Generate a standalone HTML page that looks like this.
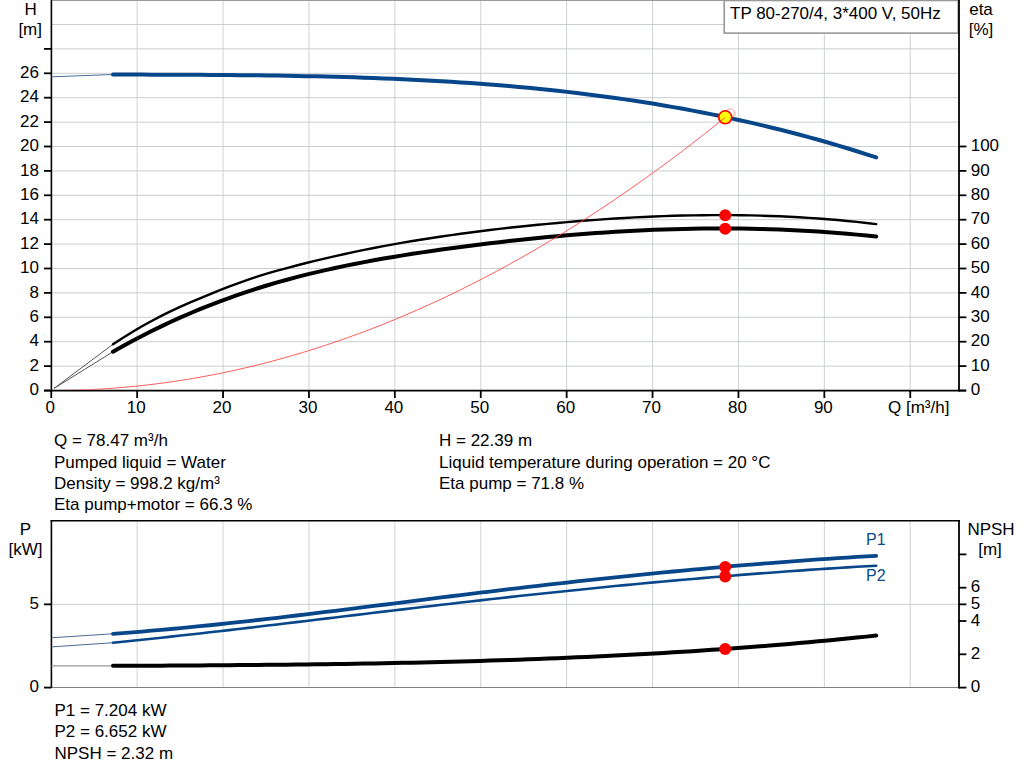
<!DOCTYPE html>
<html><head><meta charset="utf-8"><style>
html,body{margin:0;padding:0;background:#fff;}
body{width:1024px;height:781px;overflow:hidden;}
svg{display:block;}
text{font-family:"Liberation Sans",sans-serif;fill:#000;}
</style></head><body>
<svg width="1024" height="781" viewBox="0 0 1024 781">
<line x1="137.15" y1="0" x2="137.15" y2="390" stroke="#cfd2d5" stroke-width="1"/>
<line x1="223.05" y1="0" x2="223.05" y2="390" stroke="#cfd2d5" stroke-width="1"/>
<line x1="308.95" y1="0" x2="308.95" y2="390" stroke="#cfd2d5" stroke-width="1"/>
<line x1="394.85" y1="0" x2="394.85" y2="390" stroke="#cfd2d5" stroke-width="1"/>
<line x1="480.75" y1="0" x2="480.75" y2="390" stroke="#cfd2d5" stroke-width="1"/>
<line x1="566.65" y1="0" x2="566.65" y2="390" stroke="#cfd2d5" stroke-width="1"/>
<line x1="652.55" y1="0" x2="652.55" y2="390" stroke="#cfd2d5" stroke-width="1"/>
<line x1="738.45" y1="0" x2="738.45" y2="390" stroke="#cfd2d5" stroke-width="1"/>
<line x1="824.35" y1="0" x2="824.35" y2="390" stroke="#cfd2d5" stroke-width="1"/>
<line x1="910.25" y1="0" x2="910.25" y2="390" stroke="#cfd2d5" stroke-width="1"/>
<line x1="51" y1="366.10" x2="958" y2="366.10" stroke="#cacdd0" stroke-width="1"/>
<line x1="51" y1="341.70" x2="958" y2="341.70" stroke="#cacdd0" stroke-width="1"/>
<line x1="51" y1="317.30" x2="958" y2="317.30" stroke="#cacdd0" stroke-width="1"/>
<line x1="51" y1="292.90" x2="958" y2="292.90" stroke="#cacdd0" stroke-width="1"/>
<line x1="51" y1="268.50" x2="958" y2="268.50" stroke="#cacdd0" stroke-width="1"/>
<line x1="51" y1="244.10" x2="958" y2="244.10" stroke="#cacdd0" stroke-width="1"/>
<line x1="51" y1="219.70" x2="958" y2="219.70" stroke="#cacdd0" stroke-width="1"/>
<line x1="51" y1="195.30" x2="958" y2="195.30" stroke="#cacdd0" stroke-width="1"/>
<line x1="51" y1="170.90" x2="958" y2="170.90" stroke="#cacdd0" stroke-width="1"/>
<line x1="51" y1="146.50" x2="958" y2="146.50" stroke="#cacdd0" stroke-width="1"/>
<line x1="51" y1="122.10" x2="958" y2="122.10" stroke="#cacdd0" stroke-width="1"/>
<line x1="51" y1="97.70" x2="958" y2="97.70" stroke="#cacdd0" stroke-width="1"/>
<line x1="51" y1="73.30" x2="958" y2="73.30" stroke="#cacdd0" stroke-width="1"/>
<line x1="51" y1="48.90" x2="958" y2="48.90" stroke="#cacdd0" stroke-width="1"/>
<line x1="51" y1="24.50" x2="958" y2="24.50" stroke="#cacdd0" stroke-width="1"/>
<line x1="51" y1="0.5" x2="958" y2="0.5" stroke="#9a9a9a" stroke-width="1"/>
<rect x="724.2" y="0.5" width="234" height="32.6" fill="#fff" stroke="#999" stroke-width="1.6"/>
<text x="730" y="19" font-family="Liberation Sans, sans-serif" font-size="17">TP 80-270/4, 3*400 V, 50Hz</text>
<line x1="51.4" y1="0" x2="51.4" y2="391.4" stroke="#000" stroke-width="1.6"/>
<line x1="959" y1="0" x2="959" y2="391.4" stroke="#000" stroke-width="1.8"/>
<line x1="44" y1="390.6" x2="966" y2="390.6" stroke="#000" stroke-width="1.8"/>
<line x1="44" y1="390.50" x2="51.4" y2="390.50" stroke="#000" stroke-width="1.8"/>
<text x="39" y="395.10" text-anchor="end" font-family="Liberation Sans, sans-serif" font-size="17">0</text>
<line x1="44" y1="366.10" x2="51.4" y2="366.10" stroke="#000" stroke-width="1.8"/>
<text x="39" y="370.70" text-anchor="end" font-family="Liberation Sans, sans-serif" font-size="17">2</text>
<line x1="44" y1="341.70" x2="51.4" y2="341.70" stroke="#000" stroke-width="1.8"/>
<text x="39" y="346.30" text-anchor="end" font-family="Liberation Sans, sans-serif" font-size="17">4</text>
<line x1="44" y1="317.30" x2="51.4" y2="317.30" stroke="#000" stroke-width="1.8"/>
<text x="39" y="321.90" text-anchor="end" font-family="Liberation Sans, sans-serif" font-size="17">6</text>
<line x1="44" y1="292.90" x2="51.4" y2="292.90" stroke="#000" stroke-width="1.8"/>
<text x="39" y="297.50" text-anchor="end" font-family="Liberation Sans, sans-serif" font-size="17">8</text>
<line x1="44" y1="268.50" x2="51.4" y2="268.50" stroke="#000" stroke-width="1.8"/>
<text x="39" y="273.10" text-anchor="end" font-family="Liberation Sans, sans-serif" font-size="17">10</text>
<line x1="44" y1="244.10" x2="51.4" y2="244.10" stroke="#000" stroke-width="1.8"/>
<text x="39" y="248.70" text-anchor="end" font-family="Liberation Sans, sans-serif" font-size="17">12</text>
<line x1="44" y1="219.70" x2="51.4" y2="219.70" stroke="#000" stroke-width="1.8"/>
<text x="39" y="224.30" text-anchor="end" font-family="Liberation Sans, sans-serif" font-size="17">14</text>
<line x1="44" y1="195.30" x2="51.4" y2="195.30" stroke="#000" stroke-width="1.8"/>
<text x="39" y="199.90" text-anchor="end" font-family="Liberation Sans, sans-serif" font-size="17">16</text>
<line x1="44" y1="170.90" x2="51.4" y2="170.90" stroke="#000" stroke-width="1.8"/>
<text x="39" y="175.50" text-anchor="end" font-family="Liberation Sans, sans-serif" font-size="17">18</text>
<line x1="44" y1="146.50" x2="51.4" y2="146.50" stroke="#000" stroke-width="1.8"/>
<text x="39" y="151.10" text-anchor="end" font-family="Liberation Sans, sans-serif" font-size="17">20</text>
<line x1="44" y1="122.10" x2="51.4" y2="122.10" stroke="#000" stroke-width="1.8"/>
<text x="39" y="126.70" text-anchor="end" font-family="Liberation Sans, sans-serif" font-size="17">22</text>
<line x1="44" y1="97.70" x2="51.4" y2="97.70" stroke="#000" stroke-width="1.8"/>
<text x="39" y="102.30" text-anchor="end" font-family="Liberation Sans, sans-serif" font-size="17">24</text>
<line x1="44" y1="73.30" x2="51.4" y2="73.30" stroke="#000" stroke-width="1.8"/>
<text x="39" y="77.90" text-anchor="end" font-family="Liberation Sans, sans-serif" font-size="17">26</text>
<line x1="44" y1="48.90" x2="51.4" y2="48.90" stroke="#000" stroke-width="1.8"/>
<line x1="959" y1="390.50" x2="966.4" y2="390.50" stroke="#000" stroke-width="1.8"/>
<text x="970.7" y="395.10" font-family="Liberation Sans, sans-serif" font-size="17">0</text>
<line x1="959" y1="366.10" x2="966.4" y2="366.10" stroke="#000" stroke-width="1.8"/>
<text x="970.7" y="370.70" font-family="Liberation Sans, sans-serif" font-size="17">10</text>
<line x1="959" y1="341.70" x2="966.4" y2="341.70" stroke="#000" stroke-width="1.8"/>
<text x="970.7" y="346.30" font-family="Liberation Sans, sans-serif" font-size="17">20</text>
<line x1="959" y1="317.30" x2="966.4" y2="317.30" stroke="#000" stroke-width="1.8"/>
<text x="970.7" y="321.90" font-family="Liberation Sans, sans-serif" font-size="17">30</text>
<line x1="959" y1="292.90" x2="966.4" y2="292.90" stroke="#000" stroke-width="1.8"/>
<text x="970.7" y="297.50" font-family="Liberation Sans, sans-serif" font-size="17">40</text>
<line x1="959" y1="268.50" x2="966.4" y2="268.50" stroke="#000" stroke-width="1.8"/>
<text x="970.7" y="273.10" font-family="Liberation Sans, sans-serif" font-size="17">50</text>
<line x1="959" y1="244.10" x2="966.4" y2="244.10" stroke="#000" stroke-width="1.8"/>
<text x="970.7" y="248.70" font-family="Liberation Sans, sans-serif" font-size="17">60</text>
<line x1="959" y1="219.70" x2="966.4" y2="219.70" stroke="#000" stroke-width="1.8"/>
<text x="970.7" y="224.30" font-family="Liberation Sans, sans-serif" font-size="17">70</text>
<line x1="959" y1="195.30" x2="966.4" y2="195.30" stroke="#000" stroke-width="1.8"/>
<text x="970.7" y="199.90" font-family="Liberation Sans, sans-serif" font-size="17">80</text>
<line x1="959" y1="170.90" x2="966.4" y2="170.90" stroke="#000" stroke-width="1.8"/>
<text x="970.7" y="175.50" font-family="Liberation Sans, sans-serif" font-size="17">90</text>
<line x1="959" y1="146.50" x2="966.4" y2="146.50" stroke="#000" stroke-width="1.8"/>
<text x="970.7" y="151.10" font-family="Liberation Sans, sans-serif" font-size="17">100</text>
<line x1="51.25" y1="390.6" x2="51.25" y2="398" stroke="#000" stroke-width="1.8"/>
<text x="50.25" y="412.6" text-anchor="middle" font-family="Liberation Sans, sans-serif" font-size="17">0</text>
<line x1="137.15" y1="390.6" x2="137.15" y2="398" stroke="#000" stroke-width="1.8"/>
<text x="136.15" y="412.6" text-anchor="middle" font-family="Liberation Sans, sans-serif" font-size="17">10</text>
<line x1="223.05" y1="390.6" x2="223.05" y2="398" stroke="#000" stroke-width="1.8"/>
<text x="222.05" y="412.6" text-anchor="middle" font-family="Liberation Sans, sans-serif" font-size="17">20</text>
<line x1="308.95" y1="390.6" x2="308.95" y2="398" stroke="#000" stroke-width="1.8"/>
<text x="307.95" y="412.6" text-anchor="middle" font-family="Liberation Sans, sans-serif" font-size="17">30</text>
<line x1="394.85" y1="390.6" x2="394.85" y2="398" stroke="#000" stroke-width="1.8"/>
<text x="393.85" y="412.6" text-anchor="middle" font-family="Liberation Sans, sans-serif" font-size="17">40</text>
<line x1="480.75" y1="390.6" x2="480.75" y2="398" stroke="#000" stroke-width="1.8"/>
<text x="479.75" y="412.6" text-anchor="middle" font-family="Liberation Sans, sans-serif" font-size="17">50</text>
<line x1="566.65" y1="390.6" x2="566.65" y2="398" stroke="#000" stroke-width="1.8"/>
<text x="565.65" y="412.6" text-anchor="middle" font-family="Liberation Sans, sans-serif" font-size="17">60</text>
<line x1="652.55" y1="390.6" x2="652.55" y2="398" stroke="#000" stroke-width="1.8"/>
<text x="651.55" y="412.6" text-anchor="middle" font-family="Liberation Sans, sans-serif" font-size="17">70</text>
<line x1="738.45" y1="390.6" x2="738.45" y2="398" stroke="#000" stroke-width="1.8"/>
<text x="737.45" y="412.6" text-anchor="middle" font-family="Liberation Sans, sans-serif" font-size="17">80</text>
<line x1="824.35" y1="390.6" x2="824.35" y2="398" stroke="#000" stroke-width="1.8"/>
<text x="823.35" y="412.6" text-anchor="middle" font-family="Liberation Sans, sans-serif" font-size="17">90</text>
<line x1="910.25" y1="390.6" x2="910.25" y2="398" stroke="#000" stroke-width="1.8"/>
<rect x="887" y="398" width="64" height="22" fill="#fff"/>
<text x="888" y="412.6" font-family="Liberation Sans, sans-serif" font-size="17">Q [m³/h]</text>
<text x="30.7" y="14.8" text-anchor="middle" font-family="Liberation Sans, sans-serif" font-size="17">H</text>
<text x="30.2" y="34.8" text-anchor="middle" font-family="Liberation Sans, sans-serif" font-size="17">[m]</text>
<text x="981" y="14.8" text-anchor="middle" font-family="Liberation Sans, sans-serif" font-size="17">eta</text>
<text x="981" y="34.8" text-anchor="middle" font-family="Liberation Sans, sans-serif" font-size="17">[%]</text>
<path d="M51.4,76.8 L113.00,74.52" stroke="#4a6d9a" stroke-width="1" fill="none"/>
<path d="M113.00,74.52 L122.66,74.55 L132.32,74.58 L141.98,74.61 L151.64,74.65 L161.30,74.68 L170.96,74.72 L180.63,74.76 L190.29,74.80 L199.95,74.85 L209.61,74.91 L219.27,74.98 L228.93,75.06 L238.59,75.14 L248.25,75.24 L257.91,75.35 L267.57,75.48 L277.23,75.61 L286.89,75.77 L296.55,75.94 L306.22,76.13 L315.88,76.33 L325.54,76.56 L335.20,76.81 L344.86,77.08 L354.52,77.37 L364.18,77.69 L373.84,78.04 L383.50,78.41 L393.16,78.80 L402.82,79.23 L412.48,79.68 L422.14,80.17 L431.81,80.69 L441.47,81.24 L451.13,81.82 L460.79,82.44 L470.45,83.10 L480.11,83.79 L489.77,84.52 L499.43,85.29 L509.09,86.11 L518.75,86.96 L528.41,87.85 L538.07,88.79 L547.73,89.77 L557.39,90.80 L567.06,91.88 L576.72,93.00 L586.38,94.17 L596.04,95.40 L605.70,96.67 L615.36,98.00 L625.02,99.38 L634.68,100.81 L644.34,102.30 L654.00,103.84 L663.66,105.45 L673.32,107.11 L682.98,108.83 L692.65,110.61 L702.31,112.45 L711.97,114.36 L721.63,116.33 L731.29,118.37 L740.95,120.47 L750.61,122.64 L760.27,124.88 L769.93,127.18 L779.59,129.56 L789.25,132.01 L798.91,134.53 L808.57,137.12 L818.24,139.79 L827.90,142.54 L837.56,145.36 L847.22,148.26 L856.88,151.24 L866.54,154.30 L876.20,157.44" stroke="#08468a" stroke-width="4" fill="none" stroke-linecap="round"/>
<path d="M54,388.4 L113.00,344.23" stroke="#555" stroke-width="1" fill="none"/>
<path d="M54,388.4 L113.00,351.76" stroke="#555" stroke-width="1" fill="none"/>
<path d="M113.00,344.23 L122.66,337.94 L132.32,331.97 L141.98,326.31 L151.64,320.95 L161.30,315.89 L170.96,311.11 L180.63,306.62 L190.29,302.38 L199.95,298.32 L209.61,294.38 L219.27,290.48 L228.93,286.67 L238.59,283.02 L248.25,279.58 L257.91,276.41 L267.57,273.47 L277.23,270.71 L286.89,268.06 L296.55,265.50 L306.22,263.03 L315.88,260.64 L325.54,258.34 L335.20,256.12 L344.86,253.98 L354.52,251.91 L364.18,249.92 L373.84,248.01 L383.50,246.16 L393.16,244.39 L402.82,242.68 L412.48,241.04 L422.14,239.46 L431.81,237.95 L441.47,236.49 L451.13,235.09 L460.79,233.75 L470.45,232.46 L480.11,231.23 L489.77,230.04 L499.43,228.90 L509.09,227.81 L518.75,226.76 L528.41,225.76 L538.07,224.79 L547.73,223.86 L557.39,222.97 L567.06,222.13 L576.72,221.32 L586.38,220.55 L596.04,219.83 L605.70,219.16 L615.36,218.53 L625.02,217.95 L634.68,217.42 L644.34,216.94 L654.00,216.51 L663.66,216.14 L673.32,215.82 L682.98,215.56 L692.65,215.35 L702.31,215.20 L711.97,215.12 L721.63,215.09 L731.29,215.13 L740.95,215.23 L750.61,215.39 L760.27,215.63 L769.93,215.93 L779.59,216.30 L789.25,216.74 L798.91,217.25 L808.57,217.83 L818.24,218.50 L827.90,219.23 L837.56,220.04 L847.22,220.94 L856.88,221.91 L866.54,222.96 L876.20,224.10" stroke="#000" stroke-width="2.4" fill="none" stroke-linecap="round"/>
<path d="M113.00,351.76 L122.66,346.30 L132.32,341.04 L141.98,335.95 L151.64,331.05 L161.30,326.33 L170.96,321.78 L180.63,317.41 L190.29,313.21 L199.95,309.17 L209.61,305.30 L219.27,301.58 L228.93,298.03 L238.59,294.62 L248.25,291.37 L257.91,288.25 L267.57,285.28 L277.23,282.44 L286.89,279.73 L296.55,277.14 L306.22,274.68 L315.88,272.33 L325.54,270.09 L335.20,267.95 L344.86,265.91 L354.52,263.96 L364.18,262.09 L373.84,260.30 L383.50,258.59 L393.16,256.95 L402.82,255.37 L412.48,253.85 L422.14,252.38 L431.81,250.95 L441.47,249.57 L451.13,248.23 L460.79,246.93 L470.45,245.67 L480.11,244.45 L489.77,243.27 L499.43,242.14 L509.09,241.04 L518.75,239.99 L528.41,238.98 L538.07,238.01 L547.73,237.08 L557.39,236.20 L567.06,235.35 L576.72,234.56 L586.38,233.80 L596.04,233.09 L605.70,232.43 L615.36,231.82 L625.02,231.26 L634.68,230.74 L644.34,230.28 L654.00,229.86 L663.66,229.50 L673.32,229.19 L682.98,228.94 L692.65,228.74 L702.31,228.60 L711.97,228.51 L721.63,228.48 L731.29,228.51 L740.95,228.60 L750.61,228.75 L760.27,228.96 L769.93,229.23 L779.59,229.56 L789.25,229.96 L798.91,230.43 L808.57,230.96 L818.24,231.56 L827.90,232.22 L837.56,232.95 L847.22,233.76 L856.88,234.63 L866.54,235.57 L876.20,236.59" stroke="#000" stroke-width="4" fill="none" stroke-linecap="round"/>
<circle cx="725.2" cy="215.3" r="6" fill="#f00"/>
<circle cx="725.2" cy="228.8" r="6" fill="#f00"/>
<circle cx="730.3" cy="113.3" r="4.6" fill="none" stroke="#ff8080" stroke-width="0.8"/>
<circle cx="725.2" cy="117.3" r="6.5" fill="#ff0" stroke="#f00" stroke-width="1.6"/>
<clipPath id="cp"><rect x="0" y="0" width="1024" height="389.7"/></clipPath>
<path d="M51.25,390.50 L62.67,390.42 L74.10,390.19 L85.52,389.79 L96.95,389.24 L108.37,388.54 L119.80,387.68 L131.22,386.65 L142.65,385.48 L154.07,384.14 L165.50,382.65 L176.92,381.00 L188.35,379.20 L199.77,377.24 L211.20,375.12 L222.62,372.84 L234.05,370.41 L245.47,367.82 L256.89,365.08 L268.32,362.17 L279.74,359.11 L291.17,355.89 L302.59,352.52 L314.02,348.99 L325.44,345.30 L336.87,341.46 L348.29,337.45 L359.72,333.29 L371.14,328.98 L382.57,324.51 L393.99,319.88 L405.42,315.09 L416.84,310.15 L428.27,305.04 L439.69,299.79 L451.11,294.37 L462.54,288.80 L473.96,283.07 L485.39,277.19 L496.81,271.15 L508.24,264.95 L519.66,258.59 L531.09,252.08 L542.51,245.41 L553.94,238.58 L565.36,231.60 L576.79,224.46 L588.21,217.16 L599.64,209.70 L611.06,202.09 L622.49,194.32 L633.91,186.40 L645.33,178.31 L656.76,170.07 L668.18,161.68 L679.61,153.12 L691.03,144.41 L702.46,135.55 L713.88,126.52 L725.31,117.34" stroke="#ff4040" stroke-width="0.85" fill="none" clip-path="url(#cp)"/>
<text x="54" y="446.20" font-family="Liberation Sans, sans-serif" font-size="17">Q = 78.47 m³/h</text>
<text x="54" y="467.50" font-family="Liberation Sans, sans-serif" font-size="17">Pumped liquid = Water</text>
<text x="54" y="488.80" font-family="Liberation Sans, sans-serif" font-size="17">Density = 998.2 kg/m³</text>
<text x="54" y="510.10" font-family="Liberation Sans, sans-serif" font-size="17">Eta pump+motor = 66.3 %</text>
<text x="439" y="446.20" font-family="Liberation Sans, sans-serif" font-size="17">H = 22.39 m</text>
<text x="439" y="467.50" font-family="Liberation Sans, sans-serif" font-size="17">Liquid temperature during operation = 20 °C</text>
<text x="439" y="488.80" font-family="Liberation Sans, sans-serif" font-size="17">Eta pump = 71.8 %</text>
<line x1="137.15" y1="521" x2="137.15" y2="687" stroke="#cfd2d5" stroke-width="1"/>
<line x1="223.05" y1="521" x2="223.05" y2="687" stroke="#cfd2d5" stroke-width="1"/>
<line x1="308.95" y1="521" x2="308.95" y2="687" stroke="#cfd2d5" stroke-width="1"/>
<line x1="394.85" y1="521" x2="394.85" y2="687" stroke="#cfd2d5" stroke-width="1"/>
<line x1="480.75" y1="521" x2="480.75" y2="687" stroke="#cfd2d5" stroke-width="1"/>
<line x1="566.65" y1="521" x2="566.65" y2="687" stroke="#cfd2d5" stroke-width="1"/>
<line x1="652.55" y1="521" x2="652.55" y2="687" stroke="#cfd2d5" stroke-width="1"/>
<line x1="738.45" y1="521" x2="738.45" y2="687" stroke="#cfd2d5" stroke-width="1"/>
<line x1="824.35" y1="521" x2="824.35" y2="687" stroke="#cfd2d5" stroke-width="1"/>
<line x1="910.25" y1="521" x2="910.25" y2="687" stroke="#cfd2d5" stroke-width="1"/>
<line x1="51" y1="604.35" x2="958" y2="604.35" stroke="#cacdd0" stroke-width="1"/>
<line x1="51" y1="687.5" x2="958" y2="687.5" stroke="#808080" stroke-width="1"/>
<line x1="50.6" y1="520.8" x2="959.8" y2="520.8" stroke="#000" stroke-width="1.6"/>
<line x1="51.4" y1="520" x2="51.4" y2="687.6" stroke="#000" stroke-width="1.6"/>
<line x1="959" y1="520" x2="959" y2="688.4" stroke="#000" stroke-width="1.8"/>
<line x1="44" y1="687.60" x2="51.4" y2="687.60" stroke="#000" stroke-width="1.8"/>
<text x="39" y="692.20" text-anchor="end" font-family="Liberation Sans, sans-serif" font-size="17">0</text>
<line x1="44" y1="604.35" x2="51.4" y2="604.35" stroke="#000" stroke-width="1.8"/>
<text x="39" y="608.95" text-anchor="end" font-family="Liberation Sans, sans-serif" font-size="17">5</text>
<line x1="959" y1="687.60" x2="966.4" y2="687.60" stroke="#000" stroke-width="1.8"/>
<text x="970.7" y="692.20" font-family="Liberation Sans, sans-serif" font-size="17">0</text>
<line x1="959" y1="654.30" x2="966.4" y2="654.30" stroke="#000" stroke-width="1.8"/>
<text x="970.7" y="658.90" font-family="Liberation Sans, sans-serif" font-size="17">2</text>
<line x1="959" y1="621.00" x2="966.4" y2="621.00" stroke="#000" stroke-width="1.8"/>
<text x="970.7" y="625.60" font-family="Liberation Sans, sans-serif" font-size="17">4</text>
<line x1="959" y1="604.35" x2="966.4" y2="604.35" stroke="#000" stroke-width="1.8"/>
<text x="970.7" y="608.95" font-family="Liberation Sans, sans-serif" font-size="17">5</text>
<line x1="959" y1="587.70" x2="966.4" y2="587.70" stroke="#000" stroke-width="1.8"/>
<text x="970.7" y="592.30" font-family="Liberation Sans, sans-serif" font-size="17">6</text>
<line x1="959" y1="554.40" x2="966.4" y2="554.40" stroke="#000" stroke-width="1.8"/>
<text x="25.5" y="534.6" text-anchor="middle" font-family="Liberation Sans, sans-serif" font-size="17">P</text>
<text x="25.5" y="554.5" text-anchor="middle" font-family="Liberation Sans, sans-serif" font-size="17">[kW]</text>
<text x="991" y="534.6" text-anchor="middle" font-family="Liberation Sans, sans-serif" font-size="17">NPSH</text>
<text x="990" y="554.5" text-anchor="middle" font-family="Liberation Sans, sans-serif" font-size="17">[m]</text>
<path d="M51.4,637.8 L113.00,633.77" stroke="#4a6d9a" stroke-width="1" fill="none"/>
<path d="M51.4,646.9 L113.00,642.73" stroke="#4a6d9a" stroke-width="1" fill="none"/>
<path d="M51.4,665.9 L113.00,665.86" stroke="#999" stroke-width="1.2" fill="none"/>
<path d="M113.00,633.77 L122.66,633.06 L132.32,632.32 L141.98,631.54 L151.64,630.73 L161.30,629.89 L170.96,629.01 L180.63,628.11 L190.29,627.18 L199.95,626.23 L209.61,625.25 L219.27,624.24 L228.93,623.22 L238.59,622.17 L248.25,621.10 L257.91,620.01 L267.57,618.91 L277.23,617.79 L286.89,616.65 L296.55,615.50 L306.22,614.34 L315.88,613.17 L325.54,611.98 L335.20,610.79 L344.86,609.59 L354.52,608.38 L364.18,607.17 L373.84,605.96 L383.50,604.74 L393.16,603.52 L402.82,602.30 L412.48,601.08 L422.14,599.86 L431.81,598.65 L441.47,597.45 L451.13,596.24 L460.79,595.05 L470.45,593.86 L480.11,592.69 L489.77,591.52 L499.43,590.36 L509.09,589.22 L518.75,588.08 L528.41,586.95 L538.07,585.83 L547.73,584.73 L557.39,583.63 L567.06,582.55 L576.72,581.48 L586.38,580.42 L596.04,579.38 L605.70,578.34 L615.36,577.32 L625.02,576.31 L634.68,575.32 L644.34,574.34 L654.00,573.38 L663.66,572.43 L673.32,571.49 L682.98,570.57 L692.65,569.67 L702.31,568.78 L711.97,567.90 L721.63,567.05 L731.29,566.21 L740.95,565.39 L750.61,564.58 L760.27,563.79 L769.93,563.02 L779.59,562.27 L789.25,561.54 L798.91,560.82 L808.57,560.13 L818.24,559.45 L827.90,558.79 L837.56,558.16 L847.22,557.54 L856.88,556.95 L866.54,556.37 L876.20,555.82" stroke="#08468a" stroke-width="3.8" fill="none" stroke-linecap="round"/>
<path d="M113.00,642.73 L122.66,641.76 L132.32,640.76 L141.98,639.75 L151.64,638.73 L161.30,637.70 L170.96,636.65 L180.63,635.58 L190.29,634.51 L199.95,633.43 L209.61,632.33 L219.27,631.23 L228.93,630.11 L238.59,628.99 L248.25,627.86 L257.91,626.72 L267.57,625.58 L277.23,624.43 L286.89,623.28 L296.55,622.13 L306.22,620.97 L315.88,619.80 L325.54,618.64 L335.20,617.48 L344.86,616.31 L354.52,615.15 L364.18,613.98 L373.84,612.82 L383.50,611.66 L393.16,610.51 L402.82,609.35 L412.48,608.21 L422.14,607.06 L431.81,605.93 L441.47,604.80 L451.13,603.68 L460.79,602.56 L470.45,601.46 L480.11,600.36 L489.77,599.28 L499.43,598.20 L509.09,597.13 L518.75,596.07 L528.41,595.03 L538.07,593.99 L547.73,592.96 L557.39,591.95 L567.06,590.94 L576.72,589.95 L586.38,588.96 L596.04,587.99 L605.70,587.03 L615.36,586.08 L625.02,585.15 L634.68,584.22 L644.34,583.31 L654.00,582.41 L663.66,581.53 L673.32,580.65 L682.98,579.79 L692.65,578.95 L702.31,578.12 L711.97,577.30 L721.63,576.49 L731.29,575.70 L740.95,574.92 L750.61,574.16 L760.27,573.42 L769.93,572.68 L779.59,571.97 L789.25,571.27 L798.91,570.58 L808.57,569.91 L818.24,569.26 L827.90,568.62 L837.56,568.00 L847.22,567.39 L856.88,566.80 L866.54,566.23 L876.20,565.68" stroke="#08468a" stroke-width="2.6" fill="none" stroke-linecap="round"/>
<path d="M113.00,665.86 L122.66,665.82 L132.32,665.77 L141.98,665.73 L151.64,665.68 L161.30,665.63 L170.96,665.58 L180.63,665.52 L190.29,665.46 L199.95,665.40 L209.61,665.34 L219.27,665.27 L228.93,665.19 L238.59,665.12 L248.25,665.04 L257.91,664.95 L267.57,664.86 L277.23,664.76 L286.89,664.66 L296.55,664.55 L306.22,664.43 L315.88,664.31 L325.54,664.18 L335.20,664.04 L344.86,663.90 L354.52,663.74 L364.18,663.58 L373.84,663.41 L383.50,663.23 L393.16,663.05 L402.82,662.85 L412.48,662.64 L422.14,662.43 L431.81,662.20 L441.47,661.96 L451.13,661.72 L460.79,661.46 L470.45,661.19 L480.11,660.90 L489.77,660.61 L499.43,660.30 L509.09,659.98 L518.75,659.65 L528.41,659.31 L538.07,658.95 L547.73,658.57 L557.39,658.19 L567.06,657.79 L576.72,657.37 L586.38,656.94 L596.04,656.49 L605.70,656.03 L615.36,655.56 L625.02,655.06 L634.68,654.55 L644.34,654.03 L654.00,653.48 L663.66,652.92 L673.32,652.34 L682.98,651.75 L692.65,651.13 L702.31,650.50 L711.97,649.85 L721.63,649.17 L731.29,648.48 L740.95,647.77 L750.61,647.04 L760.27,646.29 L769.93,645.52 L779.59,644.73 L789.25,643.92 L798.91,643.08 L808.57,642.23 L818.24,641.35 L827.90,640.45 L837.56,639.53 L847.22,638.58 L856.88,637.61 L866.54,636.62 L876.20,635.60" stroke="#000" stroke-width="4" fill="none" stroke-linecap="round"/>
<text x="866" y="544.8" style="fill:#0b4a8c" font-family="Liberation Sans, sans-serif" font-size="16">P1</text>
<text x="866" y="581" style="fill:#0b4a8c" font-family="Liberation Sans, sans-serif" font-size="16">P2</text>
<circle cx="725.2" cy="567.1" r="6" fill="#f00"/>
<circle cx="725.2" cy="576.6" r="6" fill="#f00"/>
<circle cx="725.2" cy="648.9" r="6" fill="#f00"/>
<text x="54.5" y="715.80" font-family="Liberation Sans, sans-serif" font-size="17">P1 = 7.204 kW</text>
<text x="54.5" y="737.25" font-family="Liberation Sans, sans-serif" font-size="17">P2 = 6.652 kW</text>
<text x="54.5" y="758.70" font-family="Liberation Sans, sans-serif" font-size="17">NPSH = 2.32 m</text>
</svg></body></html>
